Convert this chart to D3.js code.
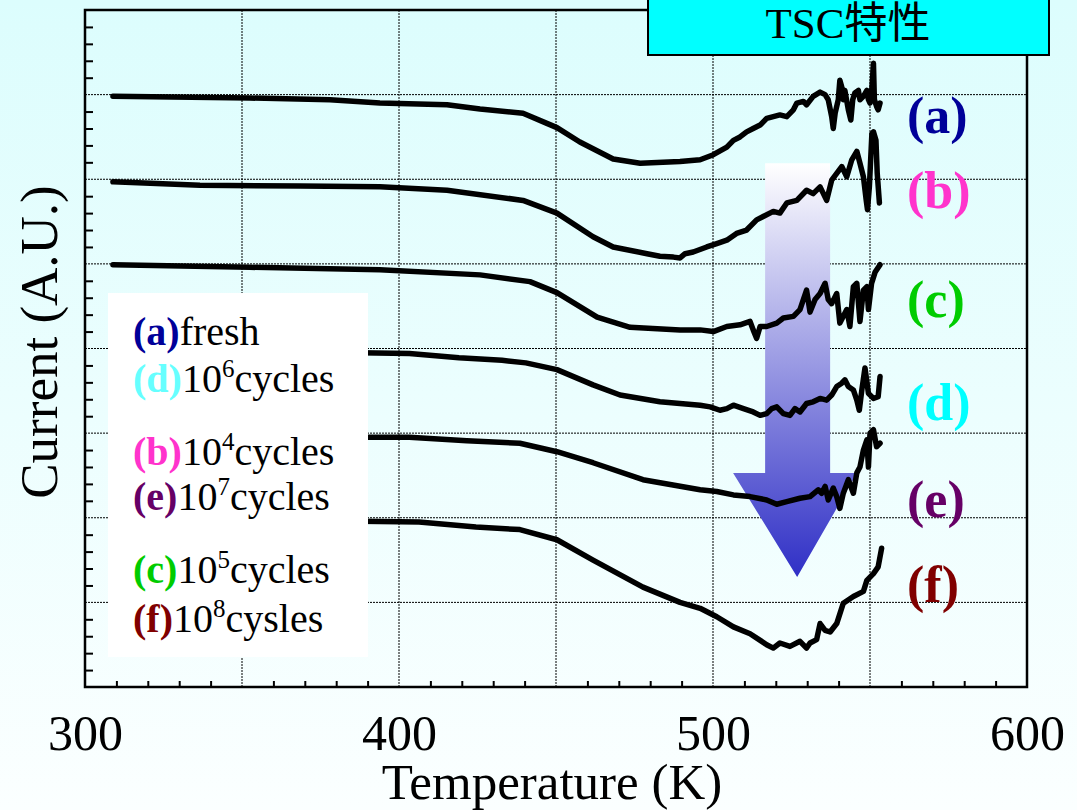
<!DOCTYPE html>
<html><head><meta charset="utf-8">
<script src="https://cdn.jsdelivr.net/npm/d3@7"></script>
<style>html,body{margin:0;padding:0;overflow:hidden;}svg{display:block;}</style>
</head><body>
<script>
// ---------------- data ----------------
const xTickLabels = [300, 400, 500, 600];
const xGrid = [350, 400, 450, 500, 550];
const yGrid = [1, 2, 3, 4, 5, 6, 7];
const seriesNames = ["a", "b", "c", "d", "e", "f"];
const labelColors = {a: "#000099", b: "#ff33cc", c: "#00cc00", d: "#00ffff", e: "#660066", f: "#800000"};
const legendCodeColors = {a: "#000099", b: "#ff33cc", c: "#00cc00", d: "#66ffff", e: "#660066", f: "#800000"};
const legendItems = [
  {code: "a", text: "fresh", exp: null, tail: ""},
  {code: "d", text: "10", exp: "6", tail: "cycles"},
  {code: "b", text: "10", exp: "4", tail: "cycles"},
  {code: "e", text: "10", exp: "7", tail: "cycles"},
  {code: "c", text: "10", exp: "5", tail: "cycles"},
  {code: "f", text: "10", exp: "8", tail: "cysles"}
];
// temperature (K) / current (A.U., offset traces)
const tempA = [308.9,352.5,378.0,393.9,415.3,425.8,439.5,447.1,450.3,457.6,468.2,476.8,489.5,495.9,500.1,504.4,506.5,508.6,510.7,512.8,515.0,517.1,519.2,521.3,523.5,525.6,526.7,528.8,529.8,531.9,534.1,535.7,536.7,537.8,538.3,538.9,539.9,540.4,541.0,541.5,542.0,543.1,543.9,544.5,545.2,546.3,546.8,547.9,549.0,549.5,550.0,550.5,551.1,551.4,552.1,552.6,553.2];
const curA  = [6.98,6.96,6.94,6.90,6.88,6.83,6.78,6.66,6.61,6.44,6.24,6.19,6.21,6.23,6.29,6.38,6.46,6.50,6.56,6.60,6.64,6.72,6.74,6.76,6.74,6.82,6.90,6.92,6.88,6.98,7.03,7.00,6.94,6.74,6.60,6.78,6.94,7.17,7.09,6.94,7.05,6.82,6.70,6.94,7.02,7.05,6.94,6.98,7.05,6.94,6.90,7.02,7.37,6.94,6.86,6.82,6.90];
const tempB = [308.9,336.6,368.5,393.9,415.3,439.5,450.3,461.8,468.2,479.0,483.1,487.4,489.5,491.1,493.7,498.0,501.2,504.4,507.5,510.7,513.9,516.0,519.2,521.3,523.5,526.7,529.8,531.9,534.1,536.2,537.8,539.4,541.0,542.6,544.2,545.8,546.8,547.9,548.8,549.2,549.8,550.6,551.1,551.9,552.3,553.0];
const curB  = [5.97,5.93,5.92,5.91,5.87,5.75,5.60,5.32,5.20,5.12,5.09,5.08,5.07,5.12,5.14,5.20,5.24,5.28,5.36,5.40,5.52,5.56,5.62,5.60,5.72,5.75,5.87,5.83,5.91,5.75,5.99,6.07,6.15,6.03,6.23,6.33,6.19,6.03,5.75,5.64,5.91,6.54,6.56,6.46,6.07,5.72];
const tempC = [308.9,352.5,393.9,425.8,441.7,450.3,463.1,473.6,489.5,495.9,500.1,504.4,508.6,511.8,512.8,513.9,515.0,517.1,520.3,522.4,525.6,527.7,528.8,529.8,530.9,532.5,534.1,535.7,536.7,537.8,539.4,540.4,541.5,542.6,543.6,544.7,545.8,546.8,547.9,549.0,549.5,550.5,551.6,553.2];
const curC  = [4.99,4.96,4.93,4.87,4.79,4.66,4.37,4.25,4.22,4.22,4.20,4.26,4.28,4.32,4.22,4.12,4.26,4.26,4.30,4.36,4.38,4.46,4.58,4.69,4.43,4.58,4.65,4.77,4.58,4.53,4.65,4.30,4.38,4.46,4.26,4.73,4.77,4.32,4.69,4.73,4.46,4.77,4.90,4.99];
const tempD = [308.9,352.5,387.4,403.3,419.1,432.8,440.4,450.3,461.8,470.4,483.1,495.9,499.1,502.2,504.4,506.5,509.7,512.8,515.0,517.1,518.7,520.3,522.4,524.5,526.1,527.7,529.8,531.9,534.1,536.2,537.8,539.4,541.0,542.0,543.1,544.7,545.8,546.6,547.4,548.4,549.5,551.1,552.6,553.2];
const curD  = [3.98,3.97,3.95,3.94,3.89,3.86,3.83,3.75,3.57,3.45,3.37,3.33,3.31,3.27,3.29,3.33,3.29,3.25,3.21,3.23,3.29,3.31,3.23,3.21,3.29,3.25,3.35,3.37,3.41,3.39,3.45,3.55,3.59,3.63,3.55,3.51,3.39,3.27,3.51,3.77,3.47,3.41,3.43,3.67];
const tempE = [308.9,352.5,387.4,403.3,421.6,438.5,450.3,461.8,477.7,495.9,501.2,506.5,511.8,517.1,520.3,523.5,527.7,530.9,533.5,534.6,535.7,536.7,538.3,539.4,540.4,541.5,543.1,544.7,545.8,546.8,547.9,549.0,549.5,550.0,551.1,552.1,553.2];
const curE  = [2.98,2.97,2.95,2.95,2.91,2.88,2.78,2.65,2.45,2.33,2.31,2.27,2.25,2.21,2.16,2.19,2.23,2.25,2.33,2.29,2.37,2.21,2.35,2.25,2.11,2.29,2.45,2.29,2.53,2.60,2.80,2.92,2.60,3.00,3.04,2.84,2.88];
const tempF = [308.9,352.5,387.4,406.4,424.5,438.5,450.3,461.8,477.7,489.5,495.9,501.2,506.5,511.8,517.1,519.2,521.3,524.5,527.7,529.8,530.9,533.0,534.1,535.7,537.3,539.4,541.5,544.7,547.9,549.0,551.1,552.6,553.7];
const curF  = [1.97,1.97,1.96,1.95,1.89,1.86,1.74,1.50,1.18,1.00,0.93,0.83,0.71,0.63,0.50,0.46,0.52,0.48,0.54,0.46,0.52,0.56,0.75,0.67,0.65,0.75,0.99,1.07,1.13,1.26,1.34,1.42,1.64];
const seriesData = {
  a: tempA.map((t, i) => [t, curA[i]]),
  b: tempB.map((t, i) => [t, curB[i]]),
  c: tempC.map((t, i) => [t, curC[i]]),
  d: tempD.map((t, i) => [t, curD[i]]),
  e: tempE.map((t, i) => [t, curE[i]]),
  f: tempF.map((t, i) => [t, curF[i]])
};
const labelY = {a: 6.55, b: 5.66, c: 4.37, d: 3.16, e: 2.01, f: 1.0};
const arrowPts = [[516.6, 6.19], [537.3, 6.19], [537.3, 2.53], [545.9, 2.53], [526.8, 1.30], [506.4, 2.53], [516.6, 2.53]];

// ---------------- chart ----------------
const W = 1077, H = 810;
const svg = d3.select("body").append("svg").attr("width", W).attr("height", H);
const defs = svg.append("defs");
const bg = defs.append("linearGradient").attr("id", "bg").attr("x1", 0).attr("y1", 0).attr("x2", 0).attr("y2", 1);
bg.append("stop").attr("offset", "0%").attr("stop-color", "#dcfdfd");
bg.append("stop").attr("offset", "100%").attr("stop-color", "#fbffff");
const ag = defs.append("linearGradient").attr("id", "arrowGrad").attr("x1", 0).attr("y1", 0).attr("x2", 0).attr("y2", 1);
ag.append("stop").attr("offset", "0%").attr("stop-color", "#ffffff");
ag.append("stop").attr("offset", "100%").attr("stop-color", "#2f2fc6");

svg.append("rect").attr("width", W).attr("height", H).attr("fill", "url(#bg)");

const x = d3.scaleLinear().domain([300, 600]).range([85, 1027]);
const y = d3.scaleLinear().domain([0, 8]).range([687, 10]);
const serif = "'Liberation Serif','Times New Roman',serif";

// grid
svg.append("g").selectAll("line").data(xGrid).join("line")
  .attr("x1", d => x(d)).attr("x2", d => x(d)).attr("y1", y(0)).attr("y2", y(8))
  .attr("stroke", "#000").attr("stroke-width", 1).attr("stroke-dasharray", "2,1");
svg.append("g").selectAll("line").data(yGrid).join("line")
  .attr("x1", x(300)).attr("x2", x(600)).attr("y1", d => y(d)).attr("y2", d => y(d))
  .attr("stroke", "#000").attr("stroke-width", 1).attr("stroke-dasharray", "2,1");

// arrow
svg.append("path")
  .attr("d", d3.line().x(d => x(d[0])).y(d => y(d[1]))(arrowPts) + "Z")
  .attr("fill", "url(#arrowGrad)");

// curves
const line = d3.line().x(d => x(d[0])).y(d => y(d[1]));
svg.append("g").selectAll("path").data(seriesNames).join("path")
  .attr("d", k => line(seriesData[k]))
  .attr("fill", "none").attr("stroke", "#000").attr("stroke-width", 5.5)
  .attr("stroke-linejoin", "round").attr("stroke-linecap", "round");

// legend box
svg.append("rect").attr("x", 108).attr("y", 293).attr("width", 260).attr("height", 364).attr("fill", "#ffffff");
const legendBase = [345, 392, 465, 510, 583, 632];
const lg = svg.append("g").attr("font-family", serif).attr("font-size", 40);
legendItems.forEach((it, i) => {
  const t = lg.append("text").attr("x", 133).attr("y", legendBase[i]);
  t.append("tspan").attr("font-weight", "bold").attr("fill", legendCodeColors[it.code]).text("(" + it.code + ")");
  t.append("tspan").attr("fill", "#000").text(it.text);
  if (it.exp) {
    t.append("tspan").attr("fill", "#000").attr("font-size", 25).attr("dy", -15).text(it.exp);
    t.append("tspan").attr("fill", "#000").attr("dy", 15).text(it.tail);
  }
});

// axes
const minorX = d3.range(310, 600, 10).filter(v => v % 50 !== 0);
svg.append("g").attr("transform", `translate(0,${y(0)})`)
  .call(d3.axisBottom(x).tickValues(minorX).tickSize(-6).tickFormat(""))
  .call(g => g.select(".domain").remove())
  .selectAll("line").attr("stroke-width", 2);
const minorY = d3.range(0.2, 8, 0.2).filter(v => Math.abs(v - Math.round(v)) > 0.01);
svg.append("g").attr("transform", `translate(${x(300)},0)`)
  .call(d3.axisLeft(y).tickValues(minorY).tickSize(-8).tickFormat(""))
  .call(g => g.select(".domain").remove())
  .selectAll("line").attr("stroke-width", 2);
const xl = svg.append("g").attr("transform", `translate(0,${y(0)})`)
  .call(d3.axisBottom(x).tickValues(xTickLabels).tickSize(0).tickFormat(d3.format("d")));
xl.select(".domain").remove();
xl.selectAll("text").attr("font-family", serif).attr("font-size", 50).attr("fill", "#000")
  .attr("y", 63).attr("dy", 0);

svg.append("rect").attr("x", x(300)).attr("y", y(8)).attr("width", x(600) - x(300)).attr("height", y(0) - y(8))
  .attr("fill", "none").attr("stroke", "#000").attr("stroke-width", 2.5);

// axis titles
svg.append("text").attr("x", 552).attr("y", 799).attr("text-anchor", "middle")
  .attr("font-family", serif).attr("font-size", 51).text("Temperature (K)");
svg.append("text").attr("transform", "translate(57,342) rotate(-90)").attr("text-anchor", "middle")
  .attr("font-family", serif).attr("font-size", 53).text("Current (A.U.)");

// right labels
svg.append("g").selectAll("text").data(seriesNames).join("text")
  .attr("x", 907).attr("y", k => y(labelY[k]))
  .attr("font-family", serif).attr("font-size", 52).attr("font-weight", "bold")
  .attr("fill", k => labelColors[k]).text(k => "(" + k + ")");

// title box
svg.append("rect").attr("x", 648).attr("y", -3).attr("width", 401).attr("height", 58)
  .attr("fill", "#00ffff").attr("stroke", "#000").attr("stroke-width", 2);
svg.append("text").attr("x", 848).attr("y", 38).attr("text-anchor", "middle")
  .attr("font-family", "'Liberation Serif','Noto Sans CJK JP',serif").attr("font-size", 43).text("TSC特性");
</script>
</body></html>
